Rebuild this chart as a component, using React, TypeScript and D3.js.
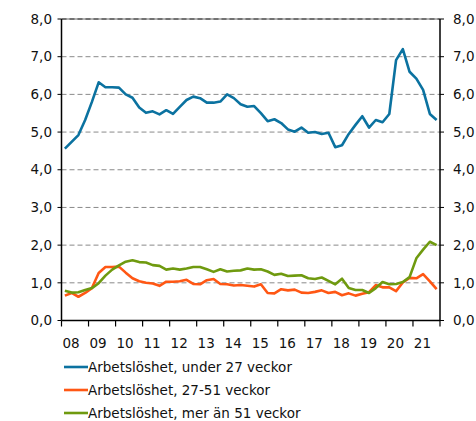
import React from 'react';
import * as d3 from 'd3';

// quarterly, 2008 Q1 - 2021 Q4, percent of labour force
const under27 = [
  4.56, 4.74, 4.92, 5.32, 5.8, 6.32, 6.19, 6.19, 6.18, 6.0, 5.91, 5.65, 5.51, 5.55,
  5.47, 5.58, 5.48, 5.67, 5.85, 5.94, 5.9, 5.78, 5.78, 5.81, 6.0, 5.9, 5.74, 5.67,
  5.69, 5.5, 5.29, 5.34, 5.24, 5.07, 5.01, 5.12, 4.98, 5.0, 4.95, 4.98, 4.6, 4.65,
  4.95, 5.19, 5.42, 5.12, 5.32, 5.26, 5.48, 6.91, 7.2, 6.6, 6.42, 6.12, 5.48, 5.32,
];
const weeks27to51 = [
  0.66, 0.73, 0.63, 0.73, 0.86, 1.26, 1.42, 1.42, 1.43, 1.27, 1.12, 1.04, 1.0, 0.98,
  0.92, 1.03, 1.03, 1.04, 1.08, 0.97, 0.96, 1.07, 1.1, 0.97, 0.96, 0.93, 0.94, 0.92,
  0.9, 0.96, 0.73, 0.72, 0.83, 0.8, 0.82, 0.74, 0.73, 0.76, 0.8, 0.73, 0.76, 0.67,
  0.72, 0.66, 0.71, 0.75, 0.94, 0.88, 0.88, 0.78, 1.01, 1.13, 1.12, 1.23, 1.04, 0.83,
];
const over51 = [
  0.79, 0.74, 0.75, 0.81, 0.86, 0.99, 1.19, 1.35, 1.46, 1.56, 1.6, 1.55, 1.54, 1.47,
  1.45, 1.35, 1.38, 1.35, 1.38, 1.42, 1.42, 1.36, 1.29, 1.36, 1.3, 1.32, 1.33, 1.38,
  1.35, 1.36, 1.3, 1.21, 1.24, 1.18, 1.19, 1.2, 1.12, 1.1, 1.14, 1.05, 0.96, 1.11,
  0.86, 0.81, 0.81, 0.73, 0.86, 1.02, 0.96, 0.97, 1.02, 1.15, 1.65, 1.88, 2.09, 2.0,
];
const yearLabels = ['08', '09', '10', '11', '12', '13', '14', '15', '16', '17', '18', '19', '20', '21'];
const yTicks = [0, 1, 2, 3, 4, 5, 6, 7, 8];

const series = [
  { name: 'Arbetslöshet, under 27 veckor', values: under27, color: '#0b72a0' },
  { name: 'Arbetslöshet, 27-51 veckor', values: weeks27to51, color: '#ff5714' },
  { name: 'Arbetslöshet, mer än 51 veckor', values: over51, color: '#6f9a0f' },
];

const font = "'DejaVu Sans', Verdana, sans-serif";

export default function App() {
  const left = 61.5, right = 440, top = 19, bottom = 320.5;

  const x = d3.scaleLinear().domain([2008, 2022]).range([left, right]);
  const y = d3.scaleLinear().domain([0, 8]).range([bottom, top]);
  const fmt = (v: number) => d3.format('.1f')(v).replace('.', ',');

  const line = d3.line<number>()
    .x((_, i) => x(2008 + (i + 0.5) / 4))
    .y(d => y(d));

  return (
    <svg width={476} height={421} style={{ position: 'absolute', left: 0, top: 0 }} fontFamily={font}>
      {yTicks.map(t => (
        <g key={t}>
          {t > 0 && t < 8 && (
            <line x1={left} x2={right} y1={y(t)} y2={y(t)} stroke="#8a8a8a" strokeDasharray="5,3" />
          )}
          <line x1={left - 4} x2={left} y1={y(t)} y2={y(t)} stroke="#000" />
          <line x1={right} x2={right + 4} y1={y(t)} y2={y(t)} stroke="#000" />
          <text x={52} y={y(t)} dy="0.35em" textAnchor="end" fontSize={13.5} fill="#111">{fmt(t)}</text>
          <text x={453} y={y(t)} dy="0.35em" fontSize={13.5} fill="#111">{fmt(t)}</text>
        </g>
      ))}
      <line x1={left} x2={right} y1={top} y2={top} stroke="#666" />
      <line x1={left} x2={right} y1={top} y2={top} stroke="#333" strokeDasharray="5,3" />

      {series.map(s => (
        <path key={s.name} d={line(s.values) || ''} fill="none" stroke={s.color} strokeWidth={2.6} strokeLinejoin="round" />
      ))}

      <line x1={left} x2={left} y1={top} y2={bottom} stroke="#000" strokeWidth={1.5} />
      <line x1={right} x2={right} y1={top} y2={bottom} stroke="#000" strokeWidth={1.5} />
      <line x1={left} x2={right} y1={bottom} y2={bottom} stroke="#000" strokeWidth={1.5} />
      {d3.range(2008, 2023).map(yr => (
        <line key={yr} x1={x(yr)} x2={x(yr)} y1={bottom} y2={bottom + 6} stroke="#000" strokeWidth={1.2} />
      ))}
      {yearLabels.map((lab, i) => (
        <text key={lab} x={x(2008 + i) + 9.5} y={343} dy="0.35em" textAnchor="middle" fontSize={13.5} fill="#111">{lab}</text>
      ))}

      {series.map((s, i) => (
        <g key={s.name} transform={`translate(0, ${367 + i * 23})`}>
          <line x1={64} x2={88} y1={0} y2={0} stroke={s.color} strokeWidth={2.6} />
          <text x={88} y={0} dy="0.35em" fontSize={13.5} fill="#111">{s.name}</text>
        </g>
      ))}
    </svg>
  );
}
